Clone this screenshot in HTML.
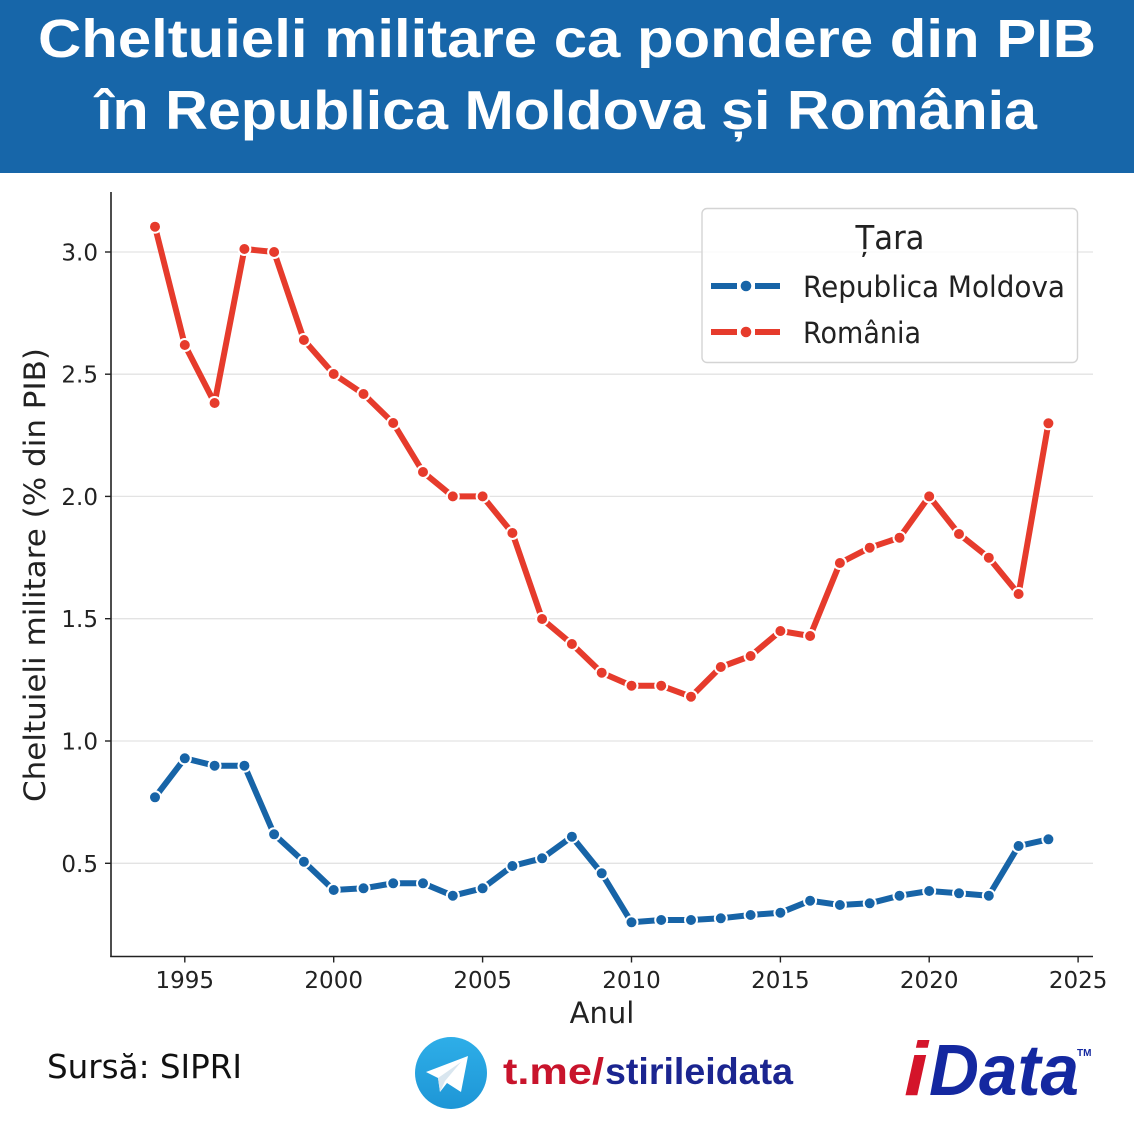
<!DOCTYPE html>
<html>
<head>
<meta charset="utf-8">
<style>
html,body{margin:0;padding:0;background:#fff;}
svg{display:block;}
</style>
</head>
<body>
<svg width="1134" height="1134" viewBox="0 0 1134 1134" xmlns="http://www.w3.org/2000/svg">
  <!-- Header -->
  <rect x="0" y="0" width="1134" height="173" fill="#1766a9"/>
  <text x="38" y="57" font-family="Liberation Sans, sans-serif" font-weight="bold" font-size="54" fill="#ffffff" textLength="1058" lengthAdjust="spacingAndGlyphs">Cheltuieli militare ca pondere din PIB</text>
  <text x="96" y="129" font-family="Liberation Sans, sans-serif" font-weight="bold" font-size="55" fill="#ffffff" textLength="941" lengthAdjust="spacingAndGlyphs">în Republica Moldova și România</text>

  <!-- Gridlines -->
  <g stroke="#e3e3e3" stroke-width="1.3">
    <line x1="111" y1="252" x2="1093" y2="252"/>
    <line x1="111" y1="374.2" x2="1093" y2="374.2"/>
    <line x1="111" y1="496.4" x2="1093" y2="496.4"/>
    <line x1="111" y1="618.7" x2="1093" y2="618.7"/>
    <line x1="111" y1="741" x2="1093" y2="741"/>
    <line x1="111" y1="863.3" x2="1093" y2="863.3"/>
  </g>

  <!-- Spines -->
  <g stroke="#222" stroke-width="1.6" fill="none">
    <line x1="111" y1="192" x2="111" y2="957"/>
    <line x1="110.2" y1="956.5" x2="1093" y2="956.5"/>
  </g>
  <!-- Y ticks -->
  <g stroke="#222" stroke-width="1.4">
    <line x1="105" y1="252" x2="111" y2="252"/>
    <line x1="105" y1="374.2" x2="111" y2="374.2"/>
    <line x1="105" y1="496.4" x2="111" y2="496.4"/>
    <line x1="105" y1="618.7" x2="111" y2="618.7"/>
    <line x1="105" y1="741" x2="111" y2="741"/>
    <line x1="105" y1="863.3" x2="111" y2="863.3"/>
  </g>
  <!-- X ticks -->
  <g stroke="#222" stroke-width="1.4">
    <line x1="184.8" y1="956.5" x2="184.8" y2="962.5"/>
    <line x1="333.7" y1="956.5" x2="333.7" y2="962.5"/>
    <line x1="482.6" y1="956.5" x2="482.6" y2="962.5"/>
    <line x1="631.5" y1="956.5" x2="631.5" y2="962.5"/>
    <line x1="780.4" y1="956.5" x2="780.4" y2="962.5"/>
    <line x1="929.2" y1="956.5" x2="929.2" y2="962.5"/>
    <line x1="1078.1" y1="956.5" x2="1078.1" y2="962.5"/>
  </g>

  <!-- Y tick labels -->
  <g font-family="DejaVu Sans, sans-serif" font-size="23" fill="#222" text-anchor="end">
    <text x="98" y="260.5">3.0</text>
    <text x="98" y="382.7">2.5</text>
    <text x="98" y="504.9">2.0</text>
    <text x="98" y="627.2">1.5</text>
    <text x="98" y="749.5">1.0</text>
    <text x="98" y="871.8">0.5</text>
  </g>
  <!-- X tick labels -->
  <g font-family="DejaVu Sans, sans-serif" font-size="23" fill="#222" text-anchor="middle">
    <text x="184.8" y="988">1995</text>
    <text x="333.7" y="988">2000</text>
    <text x="482.6" y="988">2005</text>
    <text x="631.5" y="988">2010</text>
    <text x="780.4" y="988">2015</text>
    <text x="929.2" y="988">2020</text>
    <text x="1078.1" y="988">2025</text>
  </g>

  <!-- Axis labels -->
  <text x="602" y="1023" font-family="DejaVu Sans, sans-serif" font-size="29" fill="#222" text-anchor="middle">Anul</text>
  <text transform="translate(45,575) rotate(-90)" x="0" y="0" font-family="DejaVu Sans, sans-serif" font-size="29" fill="#222" text-anchor="middle" textLength="454" lengthAdjust="spacingAndGlyphs">Cheltuieli militare (% din PIB)</text>

  <!-- Moldova series -->
  <polyline fill="none" stroke="#1764a7" stroke-width="6" stroke-linejoin="round"
    points="155,797.3 184.8,758.3 214.6,765.7 244.4,765.7 274.1,834.3 303.9,861.7 333.7,890 363.5,888.3 393.2,883.3 423,883.3 452.8,895.7 482.6,888.3 512.4,866 542.1,858.3 571.9,836.7 601.7,873.3 631.5,922.3 661.2,920 691,920 720.8,918.3 750.6,915 780.4,912.7 810.1,900.7 839.9,905 869.7,903.3 899.5,895.7 929.2,891 959,893.3 988.8,895.7 1018.6,846 1048.4,839.3"/>
  <g fill="#1764a7" stroke="#ffffff" stroke-width="2">
    <circle cx="155" cy="797.3" r="6"/><circle cx="184.8" cy="758.3" r="6"/><circle cx="214.6" cy="765.7" r="6"/><circle cx="244.4" cy="765.7" r="6"/><circle cx="274.1" cy="834.3" r="6"/><circle cx="303.9" cy="861.7" r="6"/><circle cx="333.7" cy="890" r="6"/><circle cx="363.5" cy="888.3" r="6"/><circle cx="393.2" cy="883.3" r="6"/><circle cx="423" cy="883.3" r="6"/><circle cx="452.8" cy="895.7" r="6"/><circle cx="482.6" cy="888.3" r="6"/><circle cx="512.4" cy="866" r="6"/><circle cx="542.1" cy="858.3" r="6"/><circle cx="571.9" cy="836.7" r="6"/><circle cx="601.7" cy="873.3" r="6"/><circle cx="631.5" cy="922.3" r="6"/><circle cx="661.2" cy="920" r="6"/><circle cx="691" cy="920" r="6"/><circle cx="720.8" cy="918.3" r="6"/><circle cx="750.6" cy="915" r="6"/><circle cx="780.4" cy="912.7" r="6"/><circle cx="810.1" cy="900.7" r="6"/><circle cx="839.9" cy="905" r="6"/><circle cx="869.7" cy="903.3" r="6"/><circle cx="899.5" cy="895.7" r="6"/><circle cx="929.2" cy="891" r="6"/><circle cx="959" cy="893.3" r="6"/><circle cx="988.8" cy="895.7" r="6"/><circle cx="1018.6" cy="846" r="6"/><circle cx="1048.4" cy="839.3" r="6"/>
  </g>

  <!-- Romania series -->
  <polyline fill="none" stroke="#e63b2c" stroke-width="6" stroke-linejoin="round"
    points="155,226.7 184.8,345 214.6,403 244.4,249 274.1,252 303.9,340 333.7,374 363.5,394 393.2,423 423,472 452.8,496.4 482.6,496.4 512.4,533 542.1,619 571.9,644 601.7,672.7 631.5,685.7 661.2,685.7 691,696.7 720.8,667 750.6,656 780.4,631 810.1,636 839.9,563 869.7,547.7 899.5,537.7 929.2,496.4 959,534 988.8,557.7 1018.6,594 1048.4,423.3"/>
  <g fill="#e63b2c" stroke="#ffffff" stroke-width="2">
    <circle cx="155" cy="226.7" r="6"/><circle cx="184.8" cy="345" r="6"/><circle cx="214.6" cy="403" r="6"/><circle cx="244.4" cy="249" r="6"/><circle cx="274.1" cy="252" r="6"/><circle cx="303.9" cy="340" r="6"/><circle cx="333.7" cy="374" r="6"/><circle cx="363.5" cy="394" r="6"/><circle cx="393.2" cy="423" r="6"/><circle cx="423" cy="472" r="6"/><circle cx="452.8" cy="496.4" r="6"/><circle cx="482.6" cy="496.4" r="6"/><circle cx="512.4" cy="533" r="6"/><circle cx="542.1" cy="619" r="6"/><circle cx="571.9" cy="644" r="6"/><circle cx="601.7" cy="672.7" r="6"/><circle cx="631.5" cy="685.7" r="6"/><circle cx="661.2" cy="685.7" r="6"/><circle cx="691" cy="696.7" r="6"/><circle cx="720.8" cy="667" r="6"/><circle cx="750.6" cy="656" r="6"/><circle cx="780.4" cy="631" r="6"/><circle cx="810.1" cy="636" r="6"/><circle cx="839.9" cy="563" r="6"/><circle cx="869.7" cy="547.7" r="6"/><circle cx="899.5" cy="537.7" r="6"/><circle cx="929.2" cy="496.4" r="6"/><circle cx="959" cy="534" r="6"/><circle cx="988.8" cy="557.7" r="6"/><circle cx="1018.6" cy="594" r="6"/><circle cx="1048.4" cy="423.3" r="6"/>
  </g>

  <!-- Legend -->
  <rect x="702" y="208.5" width="375.5" height="154" rx="5" ry="5" fill="#ffffff" fill-opacity="0.85" stroke="#d4d4d4" stroke-width="1.4"/>
  <text x="890" y="249" font-family="DejaVu Sans, sans-serif" font-size="33" fill="#222" text-anchor="middle" textLength="69" lengthAdjust="spacingAndGlyphs">Țara</text>
  <g stroke="#1764a7" stroke-width="6">
    <line x1="711" y1="286" x2="737" y2="286"/>
    <line x1="755" y1="286" x2="780" y2="286"/>
  </g>
  <circle cx="746" cy="286" r="5.3" fill="#1764a7"/>
  <g stroke="#e63b2c" stroke-width="6">
    <line x1="711" y1="332" x2="737" y2="332"/>
    <line x1="755" y1="332" x2="780" y2="332"/>
  </g>
  <circle cx="746" cy="332" r="5.3" fill="#e63b2c"/>
  <text x="803" y="297" font-family="DejaVu Sans, sans-serif" font-size="29" fill="#222" textLength="262" lengthAdjust="spacingAndGlyphs">Republica Moldova</text>
  <text x="803" y="343" font-family="DejaVu Sans, sans-serif" font-size="29" fill="#222" textLength="118" lengthAdjust="spacingAndGlyphs">România</text>

  <!-- Footer: source -->
  <text x="47" y="1078" font-family="DejaVu Sans, sans-serif" font-size="33" fill="#111" textLength="195" lengthAdjust="spacingAndGlyphs">Sursă: SIPRI</text>

  <!-- Telegram icon -->
  <defs>
    <linearGradient id="tg" x1="0" y1="0" x2="0" y2="1">
      <stop offset="0" stop-color="#2eaee8"/>
      <stop offset="1" stop-color="#1e96d6"/>
    </linearGradient>
  </defs>
  <circle cx="451" cy="1073" r="36" fill="url(#tg)"/>
  <polygon points="426,1072 468,1056 461,1092 447,1083 440,1092 438,1078" fill="#ffffff"/>
  <polygon points="438,1078 461,1062 445,1081 440,1092" fill="#d9e6ef"/>

  <!-- Telegram link -->
  <text y="1084" font-family="Liberation Sans, sans-serif" font-weight="bold" font-size="37">
    <tspan x="503" fill="#c8142c" textLength="101" lengthAdjust="spacingAndGlyphs">t.me/</tspan><tspan x="605" fill="#1b2590" textLength="188" lengthAdjust="spacingAndGlyphs">stirileidata</tspan>
  </text>

  <!-- iData logo -->
  <text x="904" y="1095" font-family="Liberation Sans, sans-serif" font-weight="bold" font-style="italic" font-size="76" fill="#d4142a" textLength="24" lengthAdjust="spacingAndGlyphs">i</text>
  <text x="929" y="1095" font-family="Liberation Sans, sans-serif" font-weight="bold" font-style="italic" font-size="72" fill="#1428a0" textLength="150" lengthAdjust="spacingAndGlyphs">Data</text>
  <text x="1077" y="1056" font-family="Liberation Sans, sans-serif" font-weight="bold" font-size="10" fill="#1428a0">TM</text>
</svg>
</body>
</html>
